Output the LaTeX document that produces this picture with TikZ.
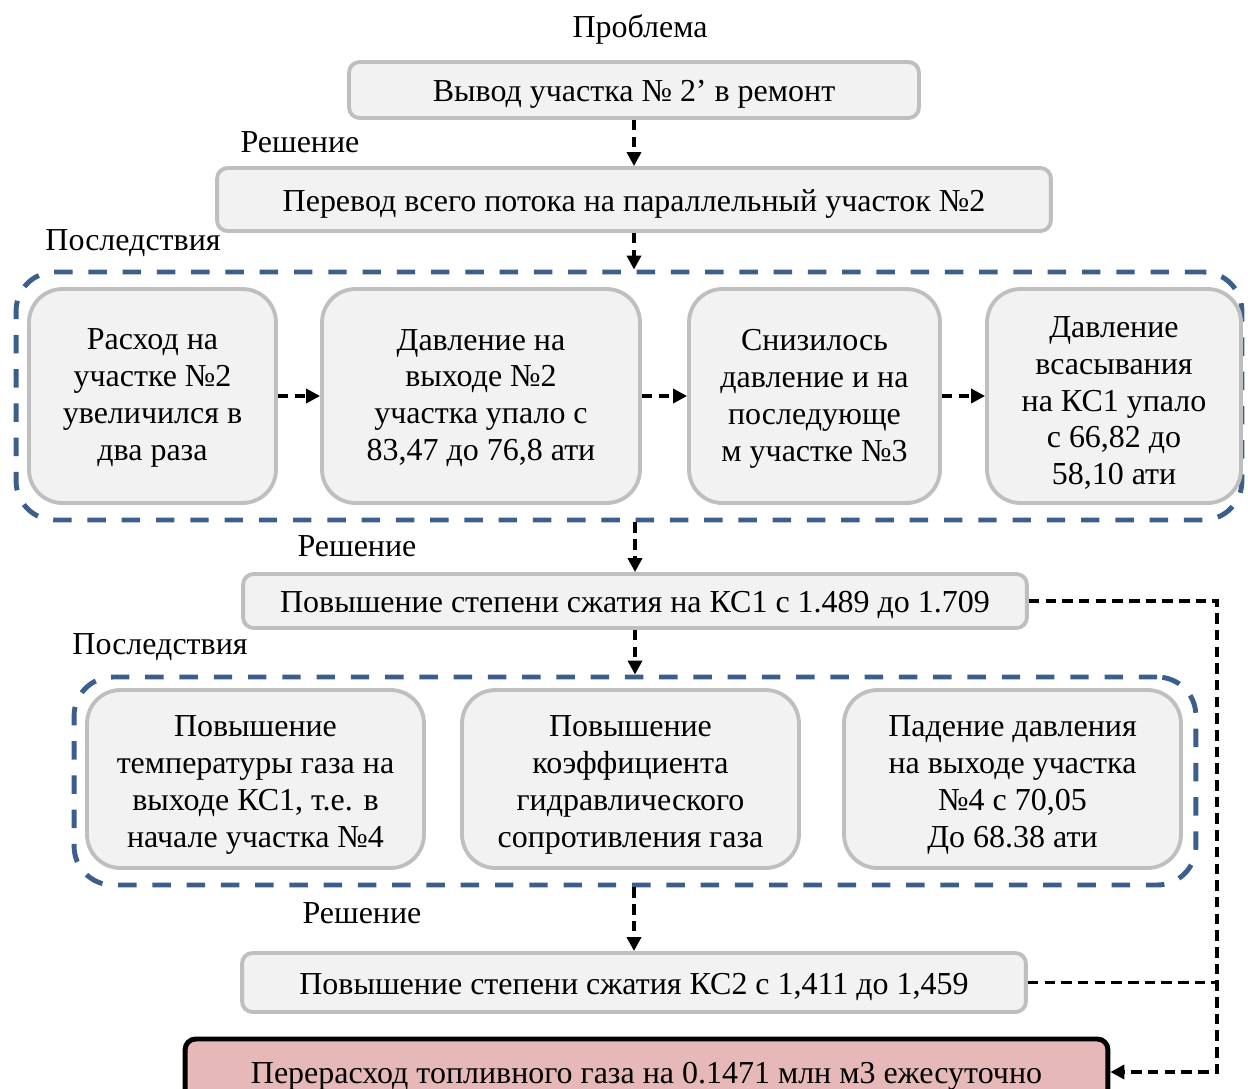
\documentclass[tikz,border=0pt]{standalone}
\usepackage{fontspec}
\setmainfont{Liberation Serif}
\usetikzlibrary{arrows.meta}
\definecolor{boxfill}{HTML}{F2F2F2}
\definecolor{boxline}{HTML}{BFBFBF}
\definecolor{grpline}{HTML}{3B5E8C}
\definecolor{redfill}{HTML}{E6B9B8}
\newcommand{\lowtxt}[1]{\raisebox{-2.3pt}[\height][\depth]{#1}}
\begin{document}
\begin{tikzpicture}[x=0.02cm,y=-0.02cm,
  font=\fontsize{18.2}{21}\selectfont,
  box/.style={draw=boxline, line width=2.2pt, fill=boxfill, rounded corners=6pt,
    inner sep=0pt, align=center},
  bigbox/.style={box, rounded corners=19pt},
  txt/.style={inner sep=0pt, align=center},
  grp/.style={draw=grpline, line width=2.8pt, rounded corners=22pt,
    dash pattern=on 10.5pt off 9pt, inner sep=0pt},
  redbox/.style={draw=black, line width=2.8pt, fill=redfill, rounded corners=6pt,
    inner sep=0pt, align=center},
  conn/.style={draw=black, line width=2.1pt, dash pattern=on 6pt off 3.5pt,
    -{Triangle[length=8pt,width=8pt]}},
  connl/.style={draw=black, line width=2.1pt, dash pattern=on 6pt off 3.5pt},
  lbl/.style={inner sep=0pt}]
\useasboundingbox (0,0) rectangle (1248,1089);
\clip (0,0) rectangle (1248,1089);

% labels
\node[lbl] (lp)  at (640,29)  {Проблема};
\node[lbl] (lr1) at (300,142) {Решение};
\node[lbl] (lc1) at (133,243) {Последствия};
\node[lbl] (lr2) at (357,546) {Решение};
\node[lbl] (lc2) at (160,647) {Последствия};
\node[lbl] (lr3) at (362,913) {Решение};

% main boxes
\node[box, minimum width=11.4cm, minimum height=1.12cm] (b1) at (634,90)
  {\lowtxt{Вывод участка № 2’ в ремонт}};
\node[box, minimum width=16.68cm, minimum height=1.26cm] (b2) at (634,199.5)
  {\lowtxt{Перевод всего потока на параллельный участок №2}};

% group 1
\node[grp, minimum width=24.52cm, minimum height=4.96cm] (g1) at (629,396) {};
\node[bigbox, minimum width=4.94cm, minimum height=4.28cm] (a1) at (152.5,396) {};
\node[bigbox, minimum width=6.36cm, minimum height=4.28cm] (a2) at (481,396) {};
\node[bigbox, minimum width=5.02cm, minimum height=4.28cm] (a3) at (814.5,396) {};
\node[bigbox, minimum width=5.08cm, minimum height=4.28cm] (a4) at (1114,396) {};
\node[txt] (a1t) at (152.5,398) {Расход на\\участке №2\\увеличился в\\два раза};
\node[txt] (a2t) at (481,398) {Давление на\\выходе №2\\участка упало с\\83,47 до 76,8 ати};
\node[txt] (a3t) at (814.5,399) {Снизилось\\давление и на\\последующе\\м участке №3};
\node[txt] (a4t) at (1114,403) {Давление\\всасывания\\на КС1 упало\\с 66,82 до\\58,10 ати};

\node[box, minimum width=15.68cm, minimum height=1.08cm] (b3) at (635,601)
  {\lowtxt{Повышение степени сжатия на КС1 с 1.489 до 1.709}};

% group 2
\node[grp, minimum width=22.44cm, minimum height=4.16cm] (g2) at (635,781) {};
\node[bigbox, minimum width=6.74cm, minimum height=3.56cm] (c1) at (255.5,779) {};
\node[bigbox, minimum width=6.74cm, minimum height=3.56cm] (c2) at (630.5,779) {};
\node[bigbox, minimum width=6.74cm, minimum height=3.56cm] (c3) at (1012.5,779) {};
\node[txt] (c1t) at (255.5,785) {Повышение\\температуры газа на\\выходе КС1, т.е. в\\начале участка №4};
\node[txt] (c2t) at (630.5,785) {Повышение\\коэффициента\\гидравлического\\сопротивления газа};
\node[txt] (c3t) at (1012.5,785) {Падение давления\\на выходе участка\\№4 с 70,05\\До 68.38 ати};

\node[box, minimum width=15.68cm, minimum height=1.18cm] (b4) at (634,982.5)
  {\lowtxt{Повышение степени сжатия КС2 с 1,411 до 1,459}};

\node[redbox, minimum width=18.46cm, minimum height=1.32cm] (b5) at (646.5,1072)
  {\lowtxt{Перерасход топливного газа на 0.1471 млн м3 ежесуточно}};

\coordinate (rx) at (1217,0);

% connectors
\draw[conn] (b1.south) -- (b2.north);
\draw[conn] (b2.south) -- (b2.south |- g1.north);
\draw[conn] (a1.east) -- (a2.west);
\draw[conn] (a2.east) -- (a3.west);
\draw[conn] (a3.east) -- (a4.west);
\draw[conn] (b3.north |- g1.south) -- (b3.north);
\draw[conn] (b3.south) -- (b3.south |- g2.north);
\draw[conn] (b4.north |- g2.south) -- (b4.north);
\draw[conn] (b3.east) -- (b3.east -| rx) -- (rx |- b5.east) -- (b5.east);
\draw[connl] (b4.east) -- (b4.east -| rx);
\end{tikzpicture}
\end{document}
